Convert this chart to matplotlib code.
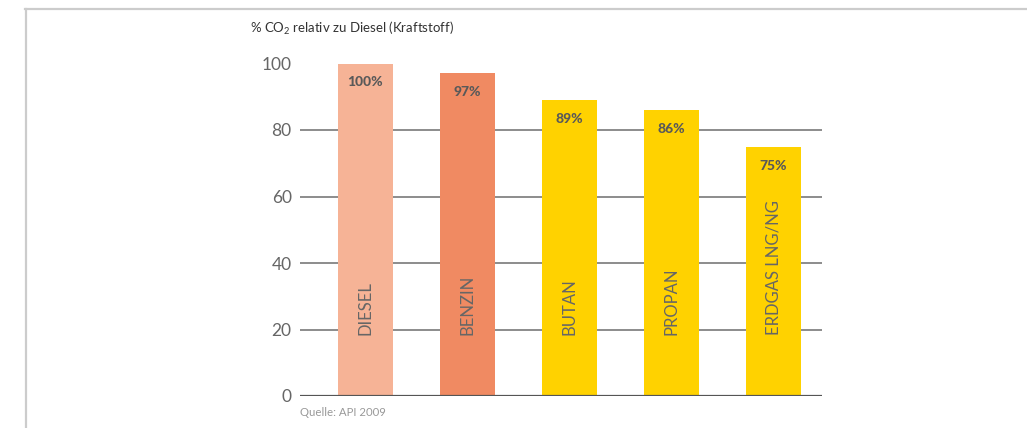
import matplotlib
matplotlib.use("Agg")
import matplotlib.pyplot as plt
from matplotlib.lines import Line2D

categories = ["DIESEL", "BENZIN", "BUTAN", "PROPAN", "ERDGAS LNG/NG"]
values = [100, 97, 89, 86, 75]
value_labels = ["100%", "97%", "89%", "86%", "75%"]
colors = ["#F6B396", "#F08A62", "#FFD200", "#FFD200", "#FFD200"]
yticks = [0, 20, 40, 60, 80, 100]
title = "% CO$_{\\mathregular{2}}$ relativ zu Diesel (Kraftstoff)"
source = "Quelle: API 2009"

plt.rcParams['font.family'] = ['Lato', 'DejaVu Sans']
plt.rcParams['mathtext.fontset'] = 'custom'
plt.rcParams['mathtext.rm'] = 'Lato'

fig = plt.figure(figsize=(10.27, 4.28), dpi=100)
ax = fig.add_axes([300/1027, (428-396)/428, (822-300)/1027, (396-63.5)/428])

x = list(range(len(categories)))
bars = ax.bar(x, values, width=55/102, color=colors, zorder=3, clip_on=False)

ax.set_xlim(-0.642, 4.48)
ax.set_ylim(0, 100)

for yv in yticks[1:-1]:
    ax.axhline(yv, color="#8c8c8c", lw=1.4, zorder=1)
ax.axhline(0, color="#555555", lw=1.6, zorder=4)

ax.set_yticks(yticks)
ax.set_yticklabels([str(t) for t in yticks], fontsize=12.5, color="#666666")
ax.tick_params(axis='y', length=0, pad=6)
ax.set_xticks([])
for s in ax.spines.values():
    s.set_visible(False)

for xi, v, lab, cat in zip(x, values, value_labels, categories):
    ax.annotate(lab, (xi, v), xytext=(0, -19), textcoords='offset pixels',
                ha='center', va='center', fontsize=10, fontweight='black',
                color="#595959", zorder=5)
    ax.annotate(cat, (xi, 0), xytext=(0, 61), textcoords='offset pixels',
                ha='center', va='bottom', rotation=90, fontsize=12,
                color="#666666", zorder=5)

fig.text(250/1027, 1 - 28/428, title, fontsize=9.5, color="#333333",
         ha='left', va='center')
fig.text(300/1027, 1 - 413/428, source, fontsize=8.2, color="#999999",
         ha='left', va='center')

fig.add_artist(Line2D([25/1027, 1], [1 - 8.5/428, 1 - 8.5/428],
                      transform=fig.transFigure, color="#cccccc", lw=1.6))
fig.add_artist(Line2D([25.5/1027, 25.5/1027], [0, 1 - 8.5/428],
                      transform=fig.transFigure, color="#cccccc", lw=1.6))

fig.savefig("out.png", dpi=100)
